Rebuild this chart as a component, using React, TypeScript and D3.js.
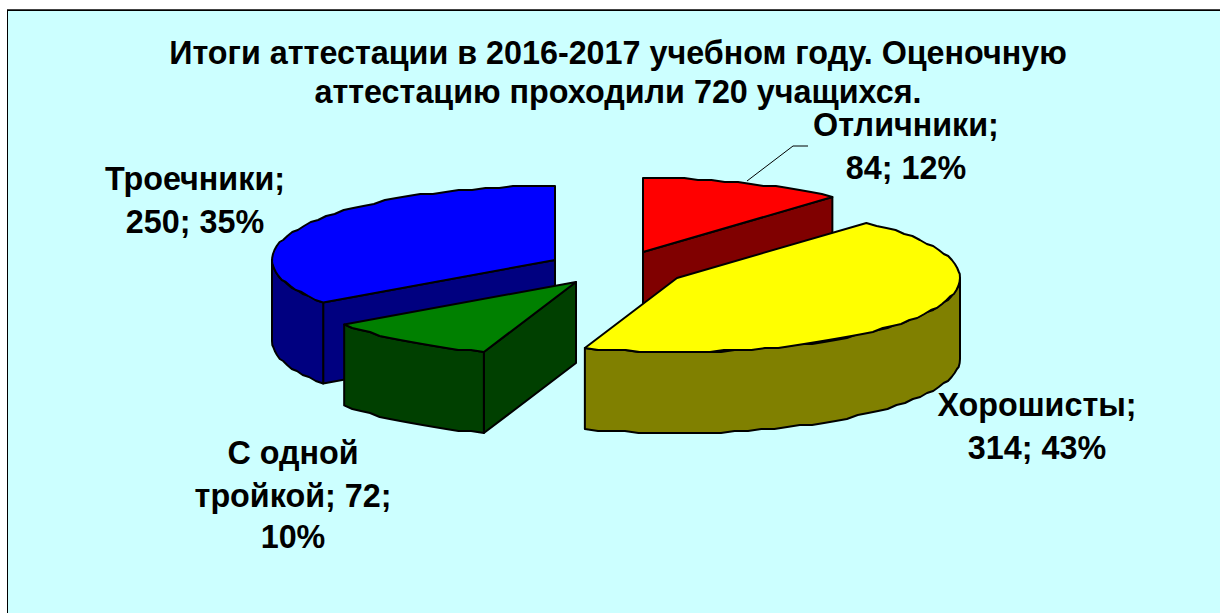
import React from "react";
import * as d3 from "d3";

// ---- data ----
const categories = ["Отличники", "Хорошисты", "С одной тройкой", "Троечники"];
const seriesValues = [84, 314, 72, 250];
const percentLabels = ["12%", "43%", "10%", "35%"];
const titleLines = [
  "Итоги аттестации в 2016-2017 учебном году. Оценочную",
  "аттестацию проходили 720 учащихся.",
];

// ---- layout & style ----
const W = 1220;
const H = 613;
const RX = 283;
const RY = 74;
const DEPTH = 81;
const FONT = "'Liberation Sans', Arial, sans-serif";
const FONT_SIZE = 32.3;
const centres: [number, number][] = [
  [643, 252],
  [677, 278],
  [576, 282],
  [555, 260],
];
const topColors = ["#ff0000", "#ffff00", "#008000", "#0000ff"];
const sideColors = ["#800000", "#808000", "#004000", "#000080"];
const labelLayout: { x: number; ys: number[]; lines: (i: number) => string[] }[] = [
  { x: 906, ys: [136, 179], lines: (i) => [`${categories[i]};`, `${seriesValues[i]}; ${percentLabels[i]}`] },
  { x: 1037, ys: [416, 459], lines: (i) => [`${categories[i]};`, `${seriesValues[i]}; ${percentLabels[i]}`] },
  { x: 293, ys: [464, 507, 548], lines: (i) => ["С одной", `тройкой; ${seriesValues[i]};`, percentLabels[i]] },
  { x: 195, ys: [190, 233], lines: (i) => [`${categories[i]};`, `${seriesValues[i]}; ${percentLabels[i]}`] },
];

const pie = d3.pie<number>().sort(null).startAngle(0).endAngle(2 * Math.PI);
const arcs = pie(seriesValues);

const xUnit = d3.scaleLinear().domain([-1, 1]).range([-RX, RX]);
const yUnit = d3.scaleLinear().domain([-1, 1]).range([-RY, RY]);
const rim = (i: number, a: number, dz = 0): [number, number] => [
  centres[i][0] + xUnit(Math.sin(a)),
  centres[i][1] + yUnit(-Math.cos(a)) + dz,
];
const line = d3.line<[number, number]>();
const sweep = (a0: number, a1: number) => {
  const n = Math.max(2, Math.ceil(Math.abs(a1 - a0) / 0.05));
  return d3.range(n + 1).map((k) => a0 + ((a1 - a0) * k) / n);
};
// the source's rim is a slightly stepped polygon
const snap = (v: number) => Math.round(v / 2) * 2;
const rimPoints = (i: number, a0: number, a1: number, dz = 0) =>
  sweep(a0, a1).map((a, k, all): [number, number] => {
    const p = rim(i, a);
    const q: [number, number] = k === 0 || k === all.length - 1 ? p : [p[0], snap(p[1])];
    return [q[0], q[1] + dz];
  });

const topPath = (i: number) => {
  const { startAngle: s, endAngle: e } = arcs[i];
  return line([centres[i], ...rimPoints(i, s, e)]) + "Z";
};
const wallPath = (i: number, a0: number, a1: number) =>
  line([...rimPoints(i, a0, a1), ...rimPoints(i, a1, a0, DEPTH)]) + "Z";
const cutPath = (i: number, a: number) => {
  const p = rim(i, a);
  const c = centres[i];
  return line([c, p, [p[0], p[1] + DEPTH], [c[0], c[1] + DEPTH]]) + "Z";
};

const Slice = ({ i, walls, cut }: { i: number; walls?: [number, number]; cut?: number }) => (
  <g stroke="#000" strokeWidth={2} strokeLinejoin="round">
    {cut !== undefined && <path d={cutPath(i, cut)} fill={sideColors[i]} />}
    {walls && <path d={wallPath(i, walls[0], walls[1])} fill={sideColors[i]} />}
    <path d={topPath(i)} fill={topColors[i]} />
  </g>
);

export default function App() {
  return (
    <svg
      width={W}
      height={H}
      viewBox={`0 0 ${W} ${H}`}
      style={{ position: "absolute", left: 0, top: 0, display: "block", background: "#fff" }}
    >
      <rect x={7} y={10} width={W} height={H} fill="#ccffff" />
      <line x1={7} y1={9.5} x2={W} y2={9.5} stroke="#444" strokeWidth={1} />
      <line x1={7.5} y1={10} x2={7.5} y2={H} stroke="#000" strokeWidth={1} />
      <line x1={7} y1={10.5} x2={W} y2={10.5} stroke="#000" strokeWidth={1} />

      <Slice i={0} cut={arcs[0].endAngle} />
      <Slice i={3} cut={arcs[3].startAngle} walls={[arcs[3].startAngle, 1.5 * Math.PI]} />
      <Slice i={2} cut={arcs[2].startAngle} walls={[arcs[2].startAngle, arcs[2].endAngle]} />
      <Slice i={1} walls={[0.5 * Math.PI, arcs[1].endAngle]} />

      <path d="M747,181L793,146L808,146" fill="none" stroke="#000" strokeWidth={1} />

      <g fontFamily={FONT} fontWeight="bold" fontSize={FONT_SIZE} fill="#000" textAnchor="middle">
        <text x={618} y={64}>{titleLines[0]}</text>
        <text x={618} y={103}>{titleLines[1]}</text>
        {labelLayout.map((l, i) =>
          l.lines(i).map((t, k) => (
            <text key={`${i}-${k}`} x={l.x} y={l.ys[k]}>{t}</text>
          ))
        )}
      </g>
    </svg>
  );
}
